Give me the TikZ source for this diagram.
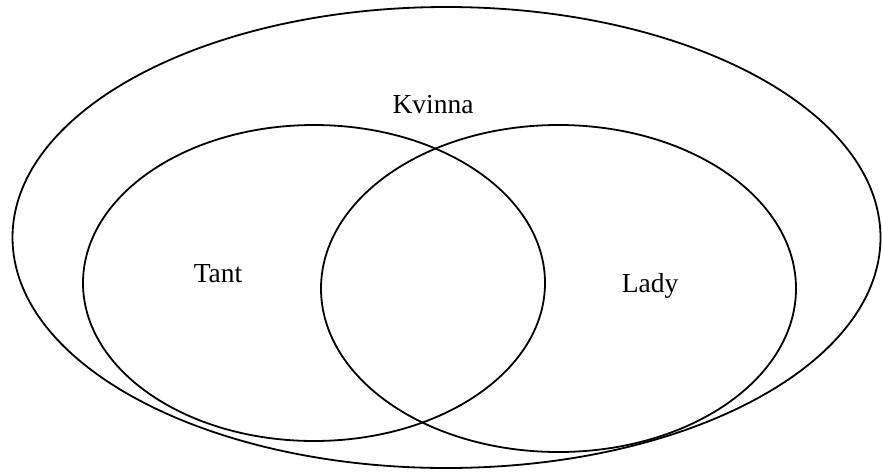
\documentclass[tikz,border=0pt]{standalone}
\usepackage{fontspec}
\setmainfont{Liberation Serif}
\usetikzlibrary{shapes.geometric}
\begin{document}
\begin{tikzpicture}[x=1pt,y=-1pt,
  setshape/.style={ellipse,draw=black,line width=1.8pt,inner sep=0pt},
  lbl/.style={font=\fontsize{27.5}{30}\selectfont,anchor=base,inner sep=0pt}]
\useasboundingbox (0,0) rectangle (882,471);
\node[setshape,minimum width=868pt,minimum height=461pt] (kvinna) at (446.5,237.5) {};
\node[setshape,minimum width=462pt,minimum height=316pt] (tant) at (314,283) {};
\node[setshape,minimum width=475pt,minimum height=327pt] (lady) at (558.5,288.5) {};
\node[lbl] (tk) at (433,113) {Kvinna};
\node[lbl] (tt) at (218,282) {Tant};
\node[lbl] (tl) at (650,292) {Lady};
\end{tikzpicture}
\end{document}
